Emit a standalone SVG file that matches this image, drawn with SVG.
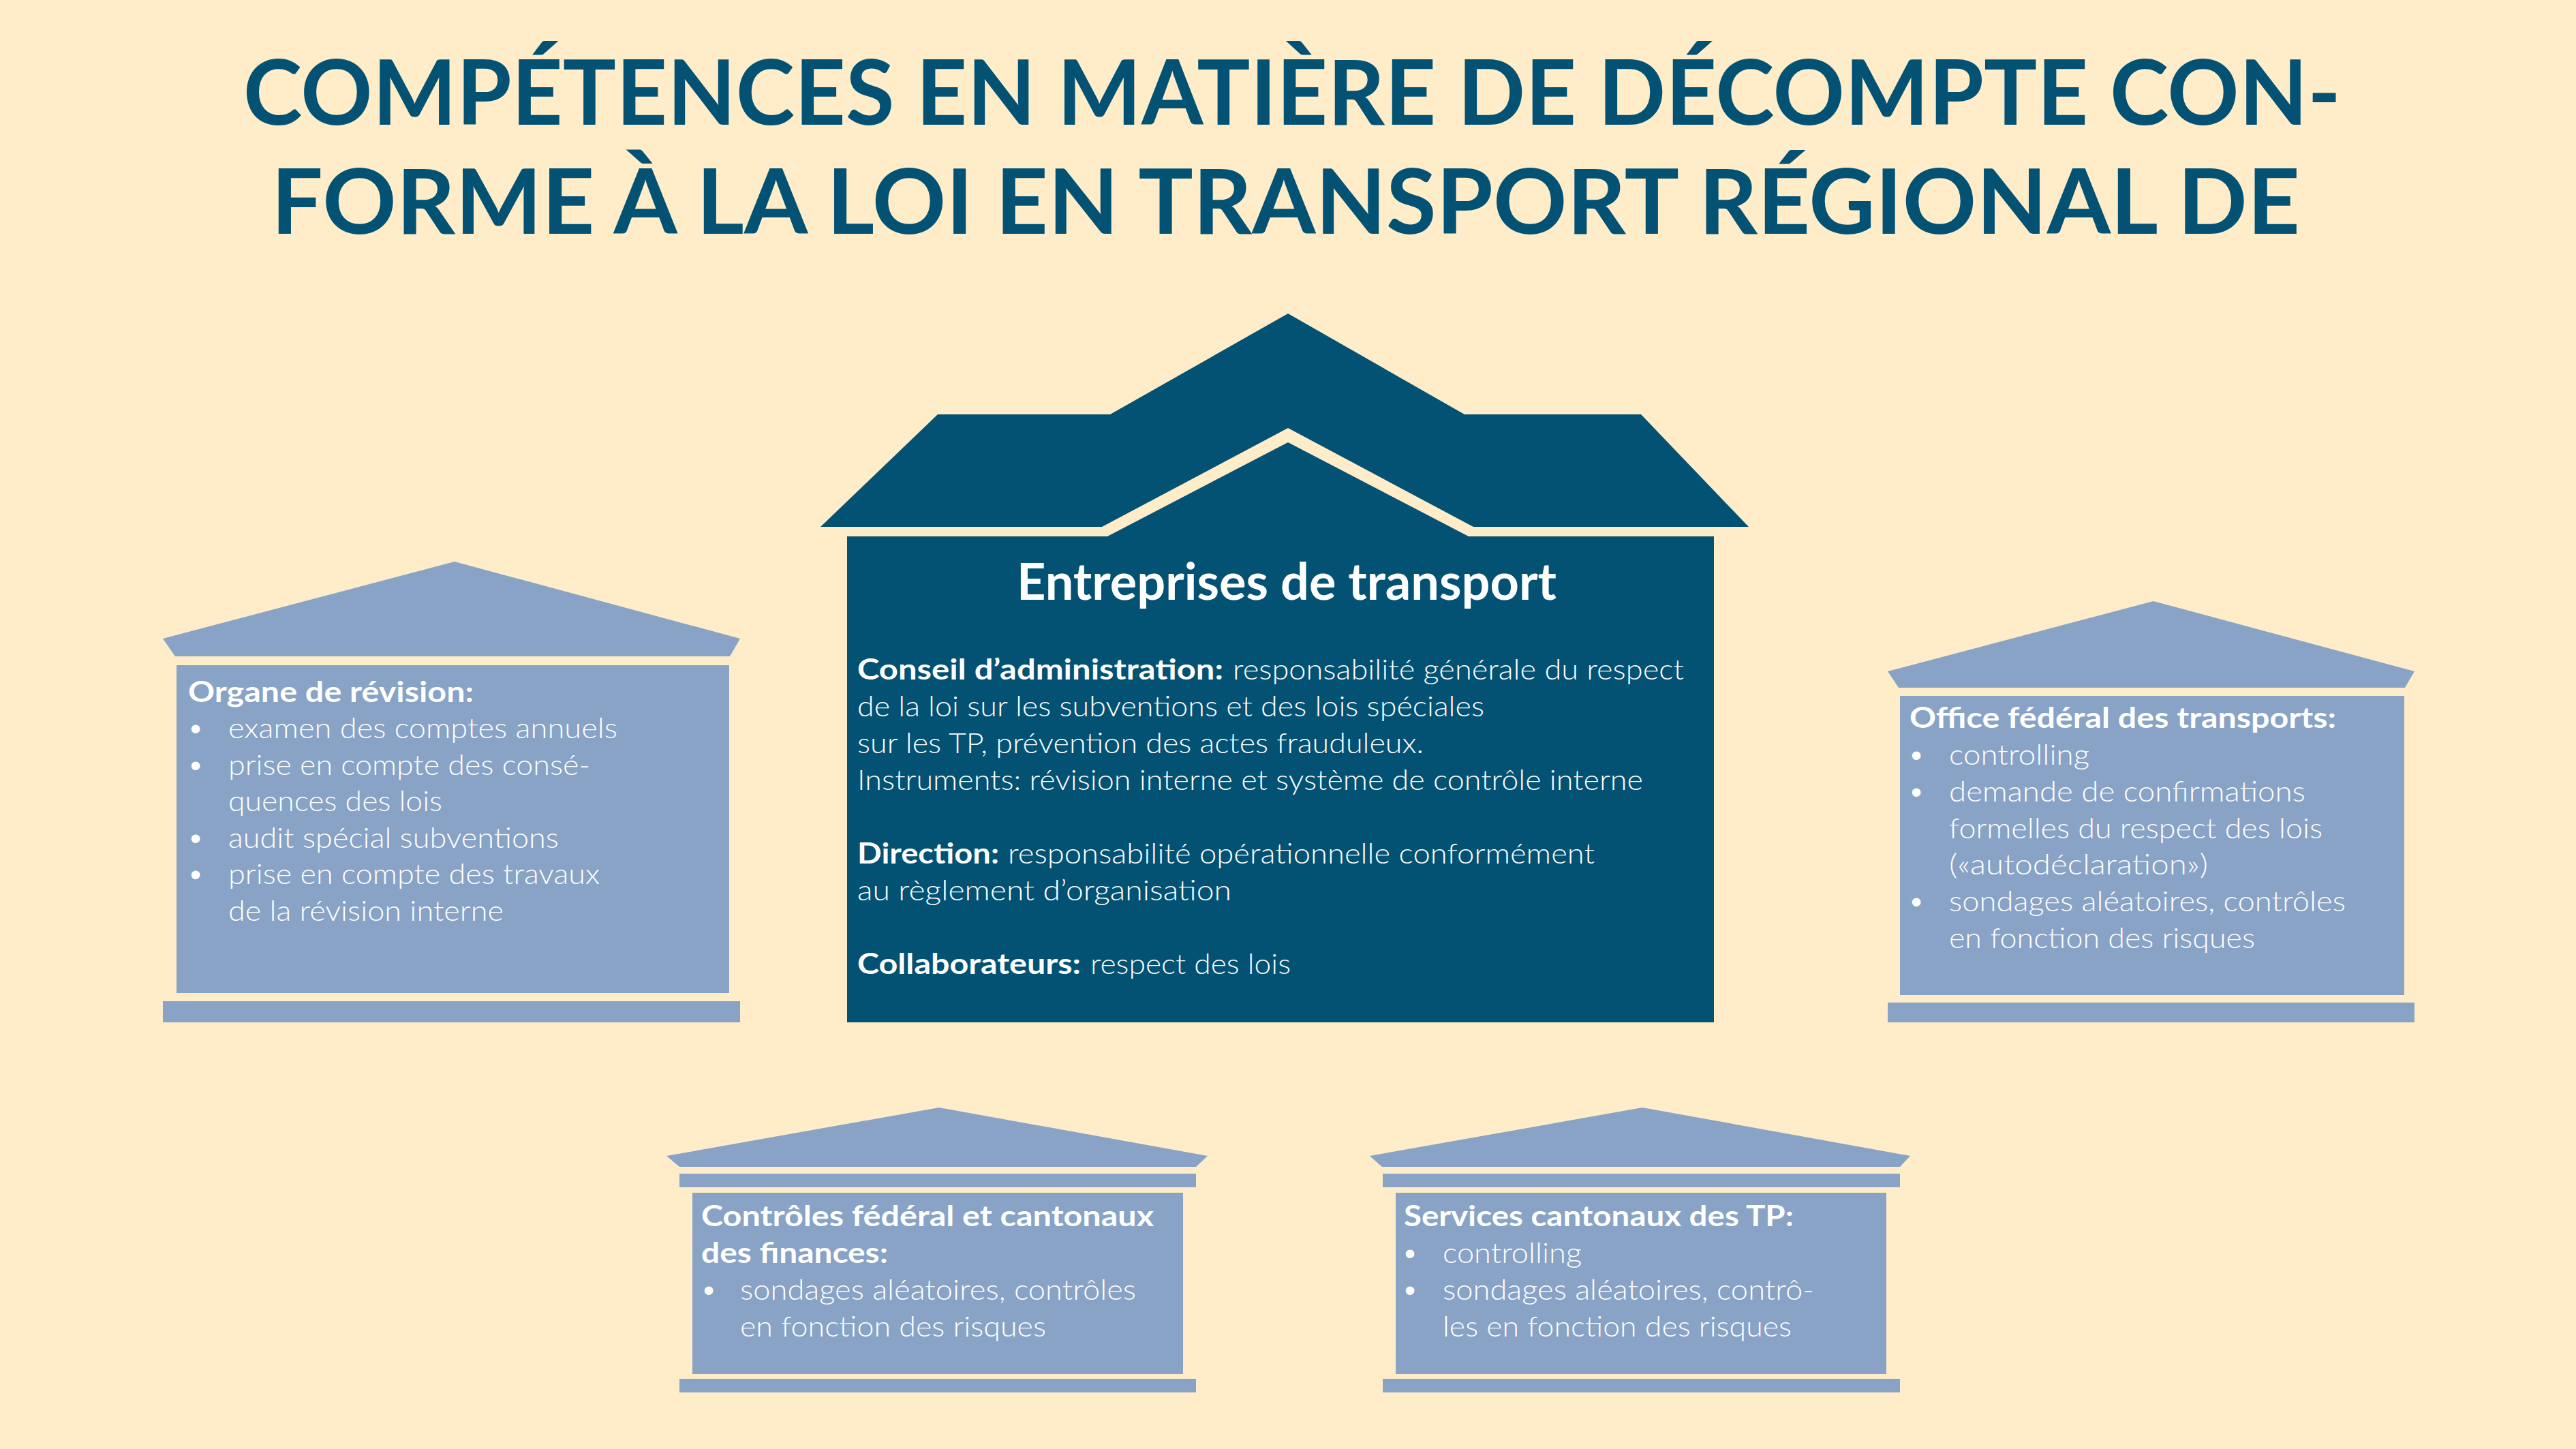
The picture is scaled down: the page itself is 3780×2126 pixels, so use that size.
<svg xmlns="http://www.w3.org/2000/svg" width="3780" height="2126" viewBox="0 0 3780 2126">
<style>
.dark{fill:#035274}
.light{fill:#88A3C5}
.ti{font-family:Lato,"Open Sans","Liberation Sans",sans-serif;font-weight:700;font-size:132px;fill:#035274}
.hb{font-family:Lato,"Open Sans","Liberation Sans",sans-serif;font-weight:700;font-size:42px;fill:#ffffff}
.big{font-family:Lato,"Open Sans","Liberation Sans",sans-serif;font-weight:700;font-size:74px;fill:#ffffff}
.t{font-family:Lato,"Open Sans","Liberation Sans",sans-serif;font-weight:300;font-size:42px;fill:#ffffff}
.bu{font-family:"Liberation Sans",sans-serif;font-size:46px;fill:#ffffff;text-anchor:middle}
</style>
<rect x="0" y="0" width="3780" height="2126" fill="#FEEDC8"/>
<g id="title">
<text class="ti" x="357" y="183" textLength="3078" lengthAdjust="spacingAndGlyphs">COMPÉTENCES EN MATIÈRE DE DÉCOMPTE CON-</text>
<text class="ti" x="398" y="343" textLength="2977" lengthAdjust="spacingAndGlyphs">FORME À LA LOI EN TRANSPORT RÉGIONAL DE</text>
</g>
<g id="connectors"></g>
<g id="node-entreprises">
<polygon class="dark" points="1204,773 1376,608 1629,608 1890,460 2149,608 2408,608 2566,773 2162,773 1890,628 1617,773"/>
<path class="dark" d="M1243,787 H1625 L1890,649 L2155,787 H2515 V1500 H1243 Z"/>
<text class="big" x="1492" y="880" textLength="792" lengthAdjust="spacingAndGlyphs">Entreprises de transport</text>
<text class="hb" x="1258" y="997" textLength="537" lengthAdjust="spacingAndGlyphs">Conseil d’administration:</text>
<text class="t" x="1809" y="997" textLength="662" lengthAdjust="spacingAndGlyphs">responsabilité générale du respect</text>
<text class="t" x="1258" y="1051" textLength="920" lengthAdjust="spacingAndGlyphs">de la loi sur les subventions et des lois spéciales</text>
<text class="t" x="1258" y="1105" textLength="831" lengthAdjust="spacingAndGlyphs">sur les TP, prévention des actes frauduleux.</text>
<text class="t" x="1258" y="1159" textLength="1153" lengthAdjust="spacingAndGlyphs">Instruments: révision interne et système de contrôle interne</text>
<text class="hb" x="1258" y="1267" textLength="208" lengthAdjust="spacingAndGlyphs">Direction:</text>
<text class="t" x="1479" y="1267" textLength="861" lengthAdjust="spacingAndGlyphs">responsabilité opérationnelle conformément</text>
<text class="t" x="1258" y="1321" textLength="549" lengthAdjust="spacingAndGlyphs">au règlement d’organisation</text>
<text class="hb" x="1258" y="1429" textLength="328" lengthAdjust="spacingAndGlyphs">Collaborateurs:</text>
<text class="t" x="1600" y="1429" textLength="294" lengthAdjust="spacingAndGlyphs">respect des lois</text>
</g>
<g id="node-organe">
<polygon class="light" points="667,824 1086,937 1071,963 257,963 239,937"/>
<rect class="light" x="259" y="976" width="811" height="481"/>
<rect class="light" x="239" y="1469" width="847" height="31"/>
<text class="hb" x="276" y="1030" textLength="419" lengthAdjust="spacingAndGlyphs">Organe de révision:</text>
<text class="bu" x="287" y="1085">•</text>
<text class="t" x="335" y="1083" textLength="571" lengthAdjust="spacingAndGlyphs">examen des comptes annuels</text>
<text class="bu" x="287" y="1139">•</text>
<text class="t" x="335" y="1137" textLength="531" lengthAdjust="spacingAndGlyphs">prise en compte des consé-</text>
<text class="t" x="335" y="1190" textLength="314" lengthAdjust="spacingAndGlyphs">quences des lois</text>
<text class="bu" x="287" y="1246">•</text>
<text class="t" x="335" y="1244" textLength="485" lengthAdjust="spacingAndGlyphs">audit spécial subventions</text>
<text class="bu" x="287" y="1299">•</text>
<text class="t" x="335" y="1297" textLength="545" lengthAdjust="spacingAndGlyphs">prise en compte des travaux</text>
<text class="t" x="335" y="1351" textLength="404" lengthAdjust="spacingAndGlyphs">de la révision interne</text>
</g>
<g id="node-oft">
<polygon class="light" points="3160,882 3543,985 3529,1009 2786,1009 2770,985"/>
<rect class="light" x="2788" y="1021" width="740" height="439"/>
<rect class="light" x="2770" y="1471" width="773" height="29"/>
<text class="hb" x="2802" y="1068" textLength="626" lengthAdjust="spacingAndGlyphs">Office fédéral des transports:</text>
<text class="bu" x="2812" y="1124">•</text>
<text class="t" x="2860" y="1122" textLength="206" lengthAdjust="spacingAndGlyphs">controlling</text>
<text class="bu" x="2812" y="1178">•</text>
<text class="t" x="2860" y="1176" textLength="523" lengthAdjust="spacingAndGlyphs">demande de confirmations</text>
<text class="t" x="2860" y="1230" textLength="548" lengthAdjust="spacingAndGlyphs">formelles du respect des lois</text>
<text class="t" x="2860" y="1283" textLength="380" lengthAdjust="spacingAndGlyphs">(«autodéclaration»)</text>
<text class="bu" x="2812" y="1339">•</text>
<text class="t" x="2860" y="1337" textLength="582" lengthAdjust="spacingAndGlyphs">sondages aléatoires, contrôles</text>
<text class="t" x="2860" y="1391" textLength="449" lengthAdjust="spacingAndGlyphs">en fonction des risques</text>
</g>
<g id="node-cdf">
<polygon class="light" points="1378,1625 1772,1696 1755,1712 997,1712 978,1696"/>
<rect class="light" x="997" y="1722" width="758" height="20"/>
<rect class="light" x="1016" y="1750" width="720" height="266"/>
<rect class="light" x="997" y="2023" width="758" height="20"/>
<text class="hb" x="1029" y="1799" textLength="664" lengthAdjust="spacingAndGlyphs">Contrôles fédéral et cantonaux</text>
<text class="hb" x="1029" y="1853" textLength="274" lengthAdjust="spacingAndGlyphs">des finances:</text>
<text class="bu" x="1040" y="1909">•</text>
<text class="t" x="1086" y="1907" textLength="581" lengthAdjust="spacingAndGlyphs">sondages aléatoires, contrôles</text>
<text class="t" x="1086" y="1961" textLength="449" lengthAdjust="spacingAndGlyphs">en fonction des risques</text>
</g>
<g id="node-services">
<polygon class="light" points="2410,1625 2803,1696 2788,1712 2028,1712 2010,1696"/>
<rect class="light" x="2029" y="1722" width="759" height="20"/>
<rect class="light" x="2048" y="1750" width="720" height="266"/>
<rect class="light" x="2029" y="2023" width="759" height="20"/>
<text class="hb" x="2060" y="1799" textLength="572" lengthAdjust="spacingAndGlyphs">Services cantonaux des TP:</text>
<text class="bu" x="2069" y="1855">•</text>
<text class="t" x="2117" y="1853" textLength="204" lengthAdjust="spacingAndGlyphs">controlling</text>
<text class="bu" x="2069" y="1909">•</text>
<text class="t" x="2117" y="1907" textLength="545" lengthAdjust="spacingAndGlyphs">sondages aléatoires, contrô-</text>
<text class="t" x="2117" y="1961" textLength="512" lengthAdjust="spacingAndGlyphs">les en fonction des risques</text>
</g>
</svg>
